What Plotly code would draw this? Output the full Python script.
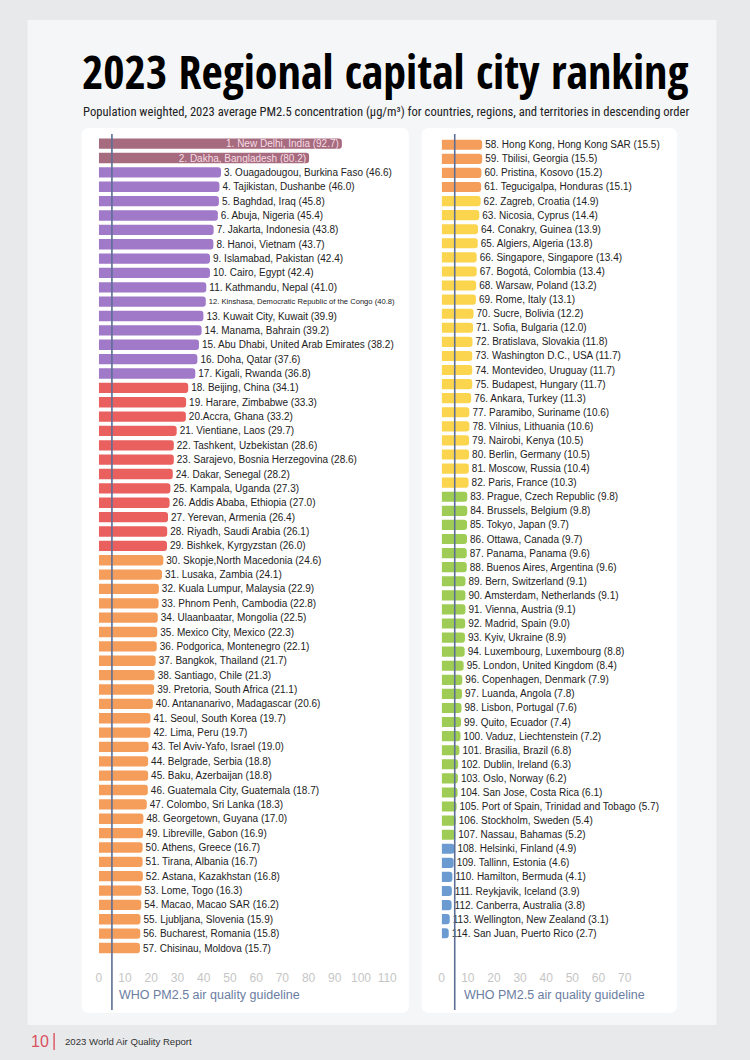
import plotly.graph_objects as go

# ---------------- DATA ----------------
LEFT_NAMES = [
    "New Delhi, India", "Dakha, Bangladesh", "Ouagadougou, Burkina Faso", "Tajikistan, Dushanbe",
    "Baghdad, Iraq", "Abuja, Nigeria", "Jakarta, Indonesia", "Hanoi, Vietnam",
    "Islamabad, Pakistan", "Cairo, Egypt", "Kathmandu, Nepal",
    "Kinshasa, Democratic Republic of the Congo", "Kuwait City, Kuwait", "Manama, Bahrain",
    "Abu Dhabi, United Arab Emirates", "Doha, Qatar", "Kigali, Rwanda", "Beijing, China",
    "Harare, Zimbabwe", "Accra, Ghana", "Vientiane, Laos", "Tashkent, Uzbekistan",
    "Sarajevo, Bosnia Herzegovina", "Dakar, Senegal", "Kampala, Uganda", "Addis Ababa, Ethiopia",
    "Yerevan, Armenia", "Riyadh, Saudi Arabia", "Bishkek, Kyrgyzstan", "Skopje,North Macedonia",
    "Lusaka, Zambia", "Kuala Lumpur, Malaysia", "Phnom Penh, Cambodia", "Ulaanbaatar, Mongolia",
    "Mexico City, Mexico", "Podgorica, Montenegro", "Bangkok, Thailand", "Santiago, Chile",
    "Pretoria, South Africa", "Antananarivo, Madagascar", "Seoul, South Korea", "Lima, Peru",
    "Tel Aviv-Yafo, Israel", "Belgrade, Serbia", "Baku, Azerbaijan", "Guatemala City, Guatemala",
    "Colombo, Sri Lanka", "Georgetown, Guyana", "Libreville, Gabon", "Athens, Greece",
    "Tirana, Albania", "Astana, Kazakhstan", "Lome, Togo", "Macao, Macao SAR",
    "Ljubljana, Slovenia", "Bucharest, Romania", "Chisinau, Moldova",
]
LEFT_VALUES = [
    92.7, 80.2, 46.6, 46.0, 45.8, 45.4, 43.8, 43.7, 42.4, 42.4, 41.0, 40.8, 39.9, 39.2,
    38.2, 37.6, 36.8, 34.1, 33.3, 33.2, 29.7, 28.6, 28.6, 28.2, 27.3, 27.0, 26.4, 26.1,
    26.0, 24.6, 24.1, 22.9, 22.8, 22.5, 22.3, 22.1, 21.7, 21.3, 21.1, 20.6, 19.7, 19.7,
    19.0, 18.8, 18.8, 18.7, 18.3, 17.0, 16.9, 16.7, 16.7, 16.8, 16.3, 16.2, 15.9, 15.8, 15.7,
]
RIGHT_NAMES = [
    "Hong Kong, Hong Kong SAR", "Tbilisi, Georgia", "Pristina, Kosovo", "Tegucigalpa, Honduras",
    "Zagreb, Croatia", "Nicosia, Cyprus", "Conakry, Guinea", "Algiers, Algeria",
    "Singapore, Singapore", "Bogotá, Colombia", "Warsaw, Poland", "Rome, Italy",
    "Sucre, Bolivia", "Sofia, Bulgaria", "Bratislava, Slovakia", "Washington D.C., USA",
    "Montevideo, Uruguay", "Budapest, Hungary", "Ankara, Turkey", "Paramibo, Suriname",
    "Vilnius, Lithuania", "Nairobi, Kenya", "Berlin, Germany", "Moscow, Russia",
    "Paris, France", "Prague, Czech Republic", "Brussels, Belgium", "Tokyo, Japan",
    "Ottawa, Canada", "Panama, Panama", "Buenos Aires, Argentina", "Bern, Switzerland",
    "Amsterdam, Netherlands", "Vienna, Austria", "Madrid, Spain", "Kyiv, Ukraine",
    "Luxembourg, Luxembourg", "London, United Kingdom", "Copenhagen, Denmark", "Luanda, Angola",
    "Lisbon, Portugal", "Quito, Ecuador", "Vaduz, Liechtenstein", "Brasilia, Brazil",
    "Dublin, Ireland", "Oslo, Norway", "San Jose, Costa Rica",
    "Port of Spain, Trinidad and Tobago", "Stockholm, Sweden", "Nassau, Bahamas",
    "Helsinki, Finland", "Tallinn, Estonia", "Hamilton, Bermuda", "Reykjavik, Iceland",
    "Canberra, Australia", "Wellington, New Zealand", "San Juan, Puerto Rico",
]
RIGHT_VALUES = [
    15.5, 15.5, 15.2, 15.1, 14.9, 14.4, 13.9, 13.8, 13.4, 13.4, 13.2, 13.1, 12.2, 12.0,
    11.8, 11.7, 11.7, 11.7, 11.3, 10.6, 10.6, 10.5, 10.5, 10.4, 10.3, 9.8, 9.8, 9.7, 9.7,
    9.6, 9.6, 9.1, 9.1, 9.1, 9.0, 8.9, 8.8, 8.4, 7.9, 7.8, 7.6, 7.4, 7.2, 6.8, 6.3, 6.2,
    6.1, 5.7, 5.4, 5.2, 4.9, 4.6, 4.1, 3.9, 3.8, 3.1, 2.7,
]
WHO_GUIDELINE = 5
LEFT_TICKS = [0, 10, 20, 30, 40, 50, 60, 70, 80, 90, 100, 110]
RIGHT_TICKS = [0, 10, 20, 30, 40, 50, 60, 70]
LABEL_NO_SPACE = {20}          # "20.Accra" in the original
SMALL_LABEL = {12}             # condensed label in the original
INSIDE_LABEL = {1, 2}

# ---------------- STYLE ----------------
W, H = 750, 1060
PAGE_BG = "#e8e9eb"
CARD_BG = "#f5f6f8"
FONT = "Liberation Sans, Arial, Helvetica, sans-serif"
TITLE_FONT = "Open Sans Condensed, Roboto Condensed, Liberation Sans, sans-serif"
SUB_FONT = "Roboto Condensed, Liberation Sans, sans-serif"


def color_for(v):
    if v > 50:
        return "#a66b7e"
    if v > 35:
        return "#a07ac8"
    if v > 25:
        return "#e9605f"
    if v > 15:
        return "#f59e5c"
    if v > 10:
        return "#fbd54d"
    if v > 5:
        return "#9fcc55"
    return "#6b9bd1"


def px_x(p):
    return p / W


def px_y(p):
    return 1 - p / H


def label(rank, name, val):
    sep = "." if rank in LABEL_NO_SPACE else ". "
    return f"{rank}{sep}{name} ({val:.1f})"


def make_trace(names, values, start_rank, xa, ya):
    ranks = list(range(start_rank, start_rank + len(values)))
    texts = [label(r, n, v) for r, n, v in zip(ranks, names, values)]
    pos = ["inside" if r in INSIDE_LABEL else "outside" for r in ranks]
    tcol = ["#f6dde5" if r in INSIDE_LABEL else "#222222" for r in ranks]
    tsize = [7.6 if r in SMALL_LABEL else 10 for r in ranks]
    return go.Bar(
        x=values, y=ranks, orientation="h", xaxis=xa, yaxis=ya,
        marker=dict(color=[color_for(v) for v in values], line=dict(width=0)),
        width=0.72,
        text=texts, textposition=pos, insidetextanchor="end",
        textfont=dict(color=tcol, size=tsize, family=FONT),
        constraintext="none", cliponaxis=False, hoverinfo="skip",
        showlegend=False,
    )


fig = go.Figure()
fig.add_trace(make_trace(LEFT_NAMES, LEFT_VALUES, 1, "x", "y"))
fig.add_trace(make_trace(RIGHT_NAMES, RIGHT_VALUES, 1 + len(LEFT_VALUES), "x2", "y2"))

n_left = len(LEFT_VALUES)
n_right = len(RIGHT_VALUES)


def rounded_rect(x0, y0, x1, y1, r):
    # pixel coordinates -> paper path
    X0, X1 = px_x(x0), px_x(x1)
    Y0, Y1 = px_y(y0), px_y(y1)  # Y0 top (larger)
    rx, ry = r / W, r / H
    return (f"M {X0+rx},{Y0} L {X1-rx},{Y0} Q {X1},{Y0} {X1},{Y0-ry} "
            f"L {X1},{Y1+ry} Q {X1},{Y1} {X1-rx},{Y1} L {X0+rx},{Y1} "
            f"Q {X0},{Y1} {X0},{Y1+ry} L {X0},{Y0-ry} Q {X0},{Y0} {X0+rx},{Y0} Z")


shapes = [
    dict(type="rect", xref="paper", yref="paper", x0=px_x(25), x1=px_x(726),
         y0=px_y(1025), y1=px_y(20), fillcolor=CARD_BG, line=dict(width=0), layer="below"),
    dict(type="path", xref="paper", yref="paper", path=rounded_rect(80, 128, 413, 1013, 8),
         fillcolor="white", line=dict(width=0), layer="below"),
    dict(type="path", xref="paper", yref="paper", path=rounded_rect(426, 128, 686, 1013, 8),
         fillcolor="white", line=dict(width=0), layer="below"),
    dict(type="line", xref="x", yref="paper", x0=WHO_GUIDELINE, x1=WHO_GUIDELINE,
         y0=px_y(134), y1=px_y(1010), line=dict(color="#5d6e95", width=1.6), layer="above"),
    dict(type="line", xref="x2", yref="paper", x0=WHO_GUIDELINE, x1=WHO_GUIDELINE,
         y0=px_y(134), y1=px_y(1010), line=dict(color="#5d6e95", width=1.6), layer="above"),
    dict(type="line", xref="paper", yref="paper", x0=px_x(52), x1=px_x(52),
         y0=px_y(1033), y1=px_y(1050), line=dict(color="#d9505e", width=1.4)),
]

annotations = [
    dict(text="<b>2023 Regional capital city ranking</b>", xref="paper", yref="paper",
         x=px_x(78), y=px_y(71), xanchor="left", yanchor="middle", showarrow=False,
         font=dict(family=TITLE_FONT, size=46, color="#000000")),
    dict(text="Population weighted, 2023 average PM2.5 concentration (µg/m³) for countries, "
              "regions, and territories in descending order",
         xref="paper", yref="paper", x=px_x(79), y=px_y(112), xanchor="left", yanchor="middle",
         showarrow=False, font=dict(family=SUB_FONT, size=12.6, color="#222222")),
    dict(text="WHO PM2.5 air quality guideline", xref="paper", yref="paper",
         x=px_x(116), y=px_y(995), xanchor="left", yanchor="middle", showarrow=False,
         font=dict(family=FONT, size=12.5, color="#6b7da2")),
    dict(text="WHO PM2.5 air quality guideline", xref="paper", yref="paper",
         x=px_x(467), y=px_y(995), xanchor="left", yanchor="middle", showarrow=False,
         font=dict(family=FONT, size=12.5, color="#6b7da2")),
    dict(text="10", xref="paper", yref="paper", x=px_x(26), y=px_y(1041),
         xanchor="left", yanchor="middle", showarrow=False,
         font=dict(family=FONT, size=16, color="#d9505e")),
    dict(text="2023 World Air Quality Report", xref="paper", yref="paper", x=px_x(61),
         y=px_y(1041), xanchor="left", yanchor="middle", showarrow=False,
         font=dict(family=FONT, size=9.6, color="#333333")),
]

axis_common = dict(showgrid=False, zeroline=False, showline=False, ticks="",
                   tickfont=dict(family=FONT, size=12, color="#c6c6c6"),
                   anchor="free", fixedrange=True)

fig.update_layout(
    width=W, height=H, margin=dict(l=0, r=0, t=0, b=0),
    paper_bgcolor=PAGE_BG, plot_bgcolor="rgba(0,0,0,0)",
    barcornerradius=3, bargap=0.28,
    xaxis=dict(domain=[px_x(97.5), px_x(391)], range=[0, LEFT_TICKS[-1]],
               tickvals=LEFT_TICKS, position=px_y(969), **axis_common),
    xaxis2=dict(domain=[px_x(446.4), px_x(632.6)], range=[0, RIGHT_TICKS[-1]],
                tickvals=RIGHT_TICKS, position=px_y(969), **axis_common),
    yaxis=dict(domain=[px_y(955.2), px_y(136.5)], range=[n_left + 0.5, 0.5],
               visible=False, fixedrange=True),
    yaxis2=dict(domain=[px_y(940.3), px_y(137.7)],
                range=[n_left + n_right + 0.5, n_left + 0.5],
                visible=False, fixedrange=True, anchor="x2"),
    shapes=shapes, annotations=annotations,
)

fig.write_html(
    "out.html", config={"displayModeBar": False},
    post_script=("document.documentElement.style.overflow='hidden';"
                 "document.body.style.margin='0';"
                 "document.body.style.overflow='hidden';"),
)
